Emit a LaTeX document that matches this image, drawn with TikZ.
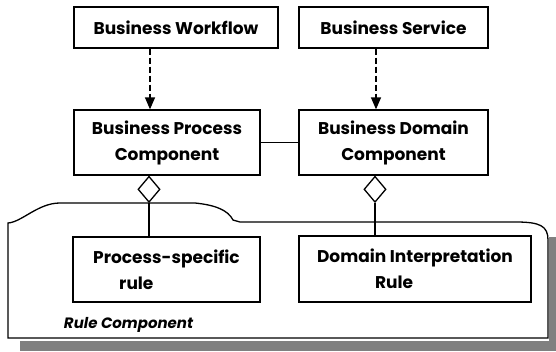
\documentclass[tikz,border=0pt]{standalone}
\usepackage{fontspec}
\setmainfont{Poppins}
\usetikzlibrary{arrows.meta}
\usetikzlibrary{shapes.geometric}

\begin{document}
\begin{tikzpicture}[x=1pt,y=-1pt,line width=1.3pt,
	every node/.style={font=\fontsize{17}{26}\selectfont\bfseries},
	comp/.style={draw,rectangle,fill=white,align=center,inner sep=0pt},
	agg/.style={draw,diamond,fill=white,inner sep=0pt,minimum width=22pt,minimum height=26pt},
	dep/.style={dash pattern=on 6pt off 3pt,-{Triangle[width=10pt,length=12pt]}}]
	
	\useasboundingbox (0,0) rectangle (556,351);
	
	% shadow and package frame
	\fill[black!50] (20,341) rectangle (556,351);
	\fill[black!50] (549,237) rectangle (556,351);
	\draw[fill=white] (8,338) -- (8,223) .. controls (22,222) and (38,203) .. (60,203)
		-- (195,203) .. controls (215,205) and (228,210) .. (233,220) -- (240,222)
		-- (516,222) .. controls (540,222) and (548,226) .. (548,240) -- (548,338) -- cycle;
	\node[anchor=base west,font=\fontsize{15}{20}\selectfont\bfseries\itshape] (rc) at (60,328) {Rule Component};
	
	\node[comp,minimum width=204pt,minimum height=41pt] (bw) at (176,27.5) {Business Workflow};
	\node[comp,minimum width=189pt,minimum height=41pt] (bs) at (393.5,27.5) {Business Service};
	\node[comp,minimum width=186pt,minimum height=65pt] (bpc) at (167,142.5) {Business Process\\Component};
	\node[comp,minimum width=189pt,minimum height=65pt] (bdc) at (393.5,142.5) {Business Domain\\Component};
	\node[comp,align=left,minimum width=187pt,minimum height=65pt] (psr) at (166.5,269.5) {Process-specific\\\hspace*{26pt}rule};
	\node[comp,align=left,minimum width=232pt,minimum height=66pt] (dir) at (415,269) {Domain Interpretation\\\hspace*{58pt}Rule};
	
	\node[agg,anchor=north] (a1) at (bpc.south -| 149,0) {};
	\node[agg,anchor=north] (a2) at (bdc.south -| 375,0) {};
	
	\draw[dep] (bw.south -| 150,0) -- (bpc.north -| 150,0);
	\draw[dep] (bs.south -| 376,0) -- (bdc.north -| 376,0);
	\draw (bpc) -- (bdc);
	\draw (a1.south) -- (a1.south |- psr.north);
	\draw (a2.south) -- (a2.south |- dir.north);
\end{tikzpicture}
\end{document}
